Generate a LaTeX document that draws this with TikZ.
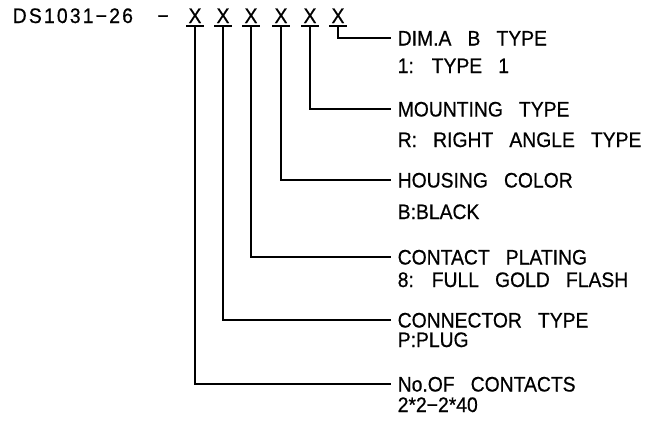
\documentclass[tikz,border=0pt]{standalone}
\usepackage{fontspec}
\setmainfont{Liberation Sans}[WordSpace=3,FakeStretch=0.92,FakeBold=0.6]
\usepackage{tikz}

\begin{document}
\begin{tikzpicture}[x=1pt,y=-1pt,line width=1.5pt,
  code/.style={font=\fontsize{21}{23}\selectfont,inner sep=0pt},
  digit/.style={code,anchor=base,inner xsep=1.5pt,inner ysep=2pt,text depth=0pt},
  head/.style={code,anchor=west,inner xsep=6pt,text height=15pt,text depth=0pt},
  item/.style={code,anchor=base west,inner xsep=6pt}]
\useasboundingbox (0,0) rectangle (653,421);
\node (part) at (12,23) [code,anchor=base west] {\addfontfeature{LetterSpace=10.5}DS1031−26};
\node (dash) at (163,23) [code,anchor=base] {−};
\foreach \k/\x in {1/195,2/223,3/251,4/281,5/310,6/338}
  {\node (x\k) at (\x,23) [digit] {X};
   \draw (x\k.south west) -- (x\k.south east);}
% labels
\node (dima) at (391,38) [head] {DIM.A B TYPE};
\node at (391,73) [item] {1: TYPE 1};
\node (mount) at (391,109) [head] {MOUNTING TYPE};
\node at (391,147) [item] {R: RIGHT ANGLE TYPE};
\node (color) at (391,180) [head] {HOUSING COLOR};
\node at (391,219) [item] {B:BLACK};
\node (plating) at (391,257) [head] {CONTACT PLATING};
\node at (391,287) [item] {8: FULL GOLD FLASH};
\node (conn) at (391,320) [head] {CONNECTOR TYPE};
\node at (391,347) [item] {P:PLUG};
\node (count) at (391,384) [head] {No.OF CONTACTS};
\node at (391,412) [item] {2*2−2*40};
% leaders
\draw (x6.south) |- (dima.west);
\draw (x5.south) |- (mount.west);
\draw (x4.south) |- (color.west);
\draw (x3.south) |- (plating.west);
\draw (x2.south) |- (conn.west);
\draw (x1.south) |- (count.west);
\end{tikzpicture}
\end{document}
